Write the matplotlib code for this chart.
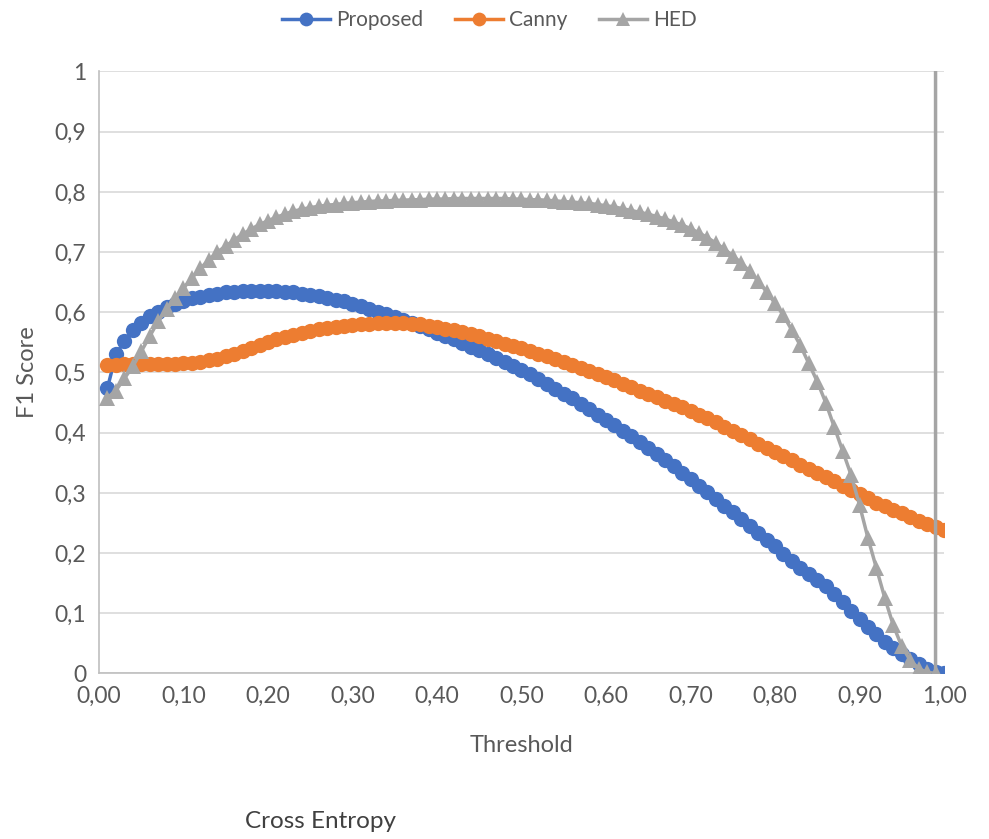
import matplotlib
matplotlib.use("Agg")
import matplotlib.pyplot as plt
from matplotlib.ticker import FuncFormatter
import numpy as np

# thresholds 0.01 .. 1.00
thr = [round(0.01 * i, 2) for i in range(1, 101)]

proposed = [
    0.474, 0.530, 0.552, 0.570, 0.583, 0.593, 0.601, 0.608, 0.614, 0.619,
    0.623, 0.626, 0.629, 0.631, 0.633, 0.634, 0.635, 0.636, 0.636, 0.636,
    0.635, 0.634, 0.633, 0.631, 0.629, 0.627, 0.624, 0.621, 0.618, 0.614,
    0.610, 0.606, 0.601, 0.597, 0.592, 0.587, 0.582, 0.577, 0.572, 0.566,
    0.561, 0.555, 0.549, 0.543, 0.537, 0.531, 0.524, 0.518, 0.511, 0.504,
    0.497, 0.489, 0.481, 0.473, 0.465, 0.457, 0.448, 0.439, 0.430, 0.421,
    0.412, 0.403, 0.394, 0.384, 0.374, 0.364, 0.354, 0.344, 0.333, 0.323,
    0.312, 0.301, 0.290, 0.279, 0.268, 0.257, 0.245, 0.234, 0.222, 0.211,
    0.199, 0.187, 0.176, 0.165, 0.155, 0.145, 0.132, 0.118, 0.104, 0.091,
    0.078, 0.065, 0.053, 0.042, 0.033, 0.024, 0.015, 0.008, 0.003, 0.001,
]

canny = [
    0.512, 0.513, 0.514, 0.514, 0.514, 0.514, 0.514, 0.514, 0.514, 0.515,
    0.516, 0.518, 0.520, 0.523, 0.527, 0.531, 0.536, 0.541, 0.546, 0.551,
    0.555, 0.559, 0.563, 0.566, 0.569, 0.572, 0.574, 0.576, 0.578, 0.579,
    0.580, 0.581, 0.582, 0.582, 0.582, 0.582, 0.581, 0.580, 0.578, 0.576,
    0.573, 0.570, 0.567, 0.564, 0.560, 0.556, 0.552, 0.548, 0.544, 0.540,
    0.535, 0.531, 0.527, 0.522, 0.517, 0.513, 0.508, 0.503, 0.498, 0.493,
    0.487, 0.481, 0.476, 0.470, 0.465, 0.459, 0.453, 0.448, 0.442, 0.436,
    0.430, 0.424, 0.417, 0.410, 0.403, 0.396, 0.389, 0.382, 0.375, 0.368,
    0.361, 0.354, 0.347, 0.340, 0.333, 0.326, 0.319, 0.312, 0.305, 0.298,
    0.291, 0.284, 0.278, 0.272, 0.266, 0.260, 0.254, 0.248, 0.243, 0.238,
]

# HED: thresholds 0.01 .. 0.99, then a final off-scale value at 0.99
hed_thr = [round(0.01 * i, 2) for i in range(1, 100)] + [0.99]
hed = [
    0.458, 0.470, 0.490, 0.510, 0.535, 0.560, 0.585, 0.605, 0.623, 0.640,
    0.657, 0.673, 0.687, 0.700, 0.710, 0.720, 0.730, 0.738, 0.746, 0.752,
    0.758, 0.763, 0.768, 0.771, 0.774, 0.776, 0.778, 0.779, 0.781, 0.782,
    0.783, 0.784, 0.785, 0.785, 0.786, 0.786, 0.787, 0.787, 0.788, 0.788,
    0.788, 0.789, 0.789, 0.789, 0.789, 0.789, 0.789, 0.789, 0.788, 0.788,
    0.787, 0.787, 0.786, 0.785, 0.784, 0.783, 0.782, 0.781, 0.779, 0.777,
    0.775, 0.772, 0.769, 0.766, 0.763, 0.759, 0.755, 0.750, 0.745, 0.739,
    0.732, 0.724, 0.715, 0.705, 0.694, 0.682, 0.668, 0.652, 0.634, 0.615,
    0.595, 0.570, 0.545, 0.515, 0.485, 0.450, 0.410, 0.370, 0.330, 0.280,
    0.225, 0.175, 0.125, 0.080, 0.045, 0.022, 0.008, 0.002, 0.000,
    1.500,
]

x_ticks = [round(0.1 * i, 1) for i in range(11)]
y_ticks = [round(0.1 * i, 1) for i in range(11)]

BLUE = "#4472C4"
ORANGE = "#ED7D31"
GRAY = "#A5A5A5"
TXT = "#595959"

plt.rcParams['font.family'] = ['Lato', 'DejaVu Sans']

fig = plt.figure(figsize=(9.89, 8.39), dpi=100)
ax = fig.add_axes([0.1001, 0.1973, 0.8544, 0.7175])

ax.plot(thr, proposed, color=BLUE, lw=2.5, marker='o', ms=11,
        markeredgewidth=0, label='Proposed', zorder=3)
ax.plot(thr, canny, color=ORANGE, lw=2.5, marker='o', ms=11,
        markeredgewidth=0, label='Canny', zorder=4)
ax.plot(hed_thr, hed, color=GRAY, lw=2.5, marker='^', ms=11,
        markeredgewidth=0, markevery=list(range(len(hed) - 1)),
        label='HED', zorder=5)

ax.set_xlim(0, 1)
ax.set_ylim(0, 1)
ax.set_xticks(x_ticks)
ax.set_yticks(y_ticks)
ax.xaxis.set_major_formatter(FuncFormatter(lambda v, p: f"{v:.2f}".replace('.', ',')))


def yfmt(v, p):
    if abs(v) < 1e-9:
        return "0"
    if abs(v - 1) < 1e-9:
        return "1"
    return f"{v:.1f}".replace('.', ',')


ax.yaxis.set_major_formatter(FuncFormatter(yfmt))
ax.grid(axis='y', color='#D9D9D9', lw=1.2)
ax.set_axisbelow(True)
for s in ['top', 'right']:
    ax.spines[s].set_visible(False)
for s in ['left', 'bottom']:
    ax.spines[s].set_color('#BFBFBF')
    ax.spines[s].set_linewidth(1.2)
ax.tick_params(axis='both', length=0, labelsize=16.5, colors=TXT)
ax.tick_params(axis='y', pad=9)
ax.tick_params(axis='x', pad=9)

ax.set_xlabel('Threshold', fontsize=17, color=TXT, labelpad=20)
ax.set_ylabel('F1 Score', fontsize=17, color=TXT, labelpad=12)

leg = fig.legend(loc='center', bbox_to_anchor=(0.495, 0.976), ncol=3,
                 frameon=False, fontsize=15, handlelength=2.3,
                 columnspacing=1.5, handletextpad=0.3, markerscale=0.9)
for t in leg.get_texts():
    t.set_color(TXT)

fig.text(0.324, 0.021, 'Cross Entropy', fontsize=17.5, color='#404040',
         ha='center', va='center')

fig.savefig('out.png', dpi=100)
